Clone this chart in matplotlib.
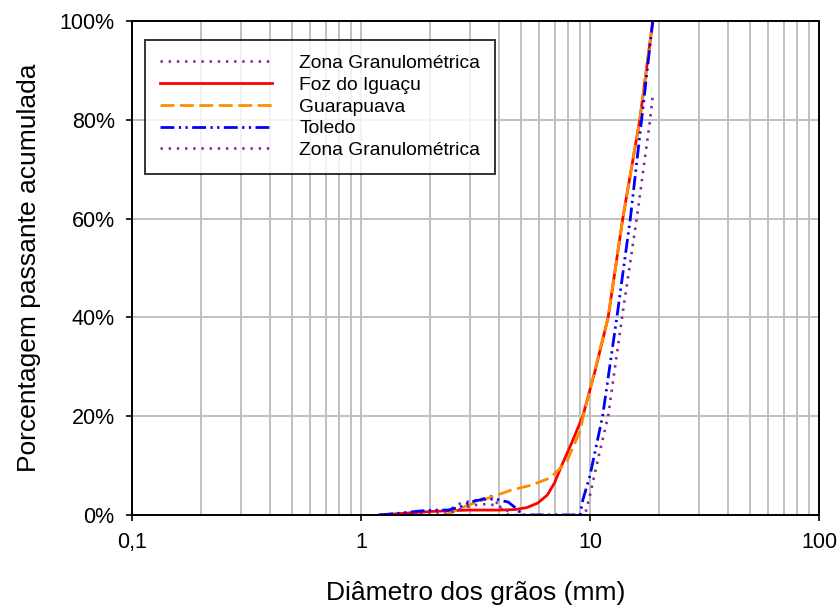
import matplotlib.pyplot as plt
from matplotlib.ticker import FixedLocator, FixedFormatter, LogLocator, NullFormatter

plt.rcParams['font.family'] = ['Liberation Sans', 'DejaVu Sans']

##############################
# Donnees (diametre en mm, % passante)

zona1_x = [1.2, 1.6, 2.0, 2.4, 2.65, 2.85, 3.1, 3.4, 3.7, 3.9, 4.1, 4.4, 6.0, 9.5, 10.0, 10.8, 12.0, 13.8, 16.0, 18.3, 18.8]
zona1_y = [0, 0.2, 0.3, 0.8, 2.2, 2.6, 2.9, 3.3, 3.8, 2.6, 1.2, 0, 0, 0, 4, 11, 20, 40, 60, 80, 85]

foz_x = [1.2, 1.6, 2.0, 2.5, 3.0, 4.0, 4.7, 5.3, 5.9, 6.5, 7.0, 7.6, 8.3, 9.3, 10.5, 12.0, 13.9, 16.5, 18.8]
foz_y = [0, 0.4, 0.7, 0.9, 1.0, 1.0, 1.1, 1.5, 2.4, 4.0, 6.5, 10.5, 14.5, 20, 29, 40, 60, 80, 100]

guara_x = [2.3, 2.45, 2.8, 3.2, 3.7, 4.5, 5.5, 6.7, 7.9, 9.05, 9.4, 12.0, 13.9, 16.5, 18.8]
guara_y = [0, 0.4, 1.6, 2.6, 3.6, 5.0, 6.0, 7.5, 10.7, 17, 20.5, 40, 60, 80, 100]

toledo_x = [1.2, 1.5, 1.8, 2.1, 2.4, 2.7, 3.0, 3.4, 3.9, 4.4, 4.8, 5.05, 9.05, 9.3, 10.0, 11.35, 13.1, 15.0, 16.8, 18.8]
toledo_y = [0, 0.4, 0.8, 1.0, 1.0, 1.6, 2.6, 3.2, 3.2, 2.6, 1.2, 0, 0, 3, 8, 20, 40, 60, 80, 100]

zona2_x = [2.3, 2.5, 2.8, 3.1, 3.5, 3.85, 4.2, 4.6]
zona2_y = [0, 0.6, 1.4, 2.0, 2.2, 2.0, 1.4, 0]

xticks = [0.1, 1, 10, 100]
xlabels = ['0,1', '1', '10', '100']
yticks = [0, 20, 40, 60, 80, 100]
ylabels = ['0%', '20%', '40%', '60%', '80%', '100%']

##############################
# Figure

fig, ax = plt.subplots(figsize=(8.4, 6.08), dpi=100)
fig.subplots_adjust(left=132/840, right=819/840, top=1-21/608, bottom=1-515/608)

violet = '#7B2C8C'
ax.plot(zona1_x, zona1_y, color=violet, lw=1.9, dashes=(0.9, 2.2), label='Zona Granulométrica')
ax.plot(foz_x, foz_y, color='#FF0000', lw=2.0, label='Foz do Iguaçu')
ax.plot(guara_x, guara_y, color='#FF8C00', lw=2.0, dashes=(5, 2), label='Guarapuava')
ax.plot(toledo_x, toledo_y, color='#0000FF', lw=2.0, dashes=(5, 1.6, 0.8, 1.6, 0.8, 1.6), label='Toledo')
ax.plot(zona2_x, zona2_y, color=violet, lw=1.9, dashes=(0.9, 2.2), label='Zona Granulométrica')

ax.set_xscale('log')
ax.set_xlim(0.1, 100)
ax.set_ylim(0, 100)
ax.xaxis.set_major_locator(FixedLocator(xticks))
ax.xaxis.set_major_formatter(FixedFormatter(xlabels))
ax.xaxis.set_minor_locator(LogLocator(base=10, subs=range(2, 10)))
ax.xaxis.set_minor_formatter(NullFormatter())
ax.set_yticks(yticks)
ax.set_yticklabels(ylabels)

ax.grid(True, which='both', axis='x', color='#C0C0C0', lw=1.4)
ax.grid(True, which='major', axis='y', color='#C0C0C0', lw=1.4)
ax.set_axisbelow(True)

ax.tick_params(axis='both', which='major', direction='out', length=4.5, width=1.2, labelsize=15.5, pad=8)
ax.tick_params(axis='x', which='minor', length=0)
for s in ax.spines.values():
    s.set_linewidth(1.4)
    s.set_color('black')

ax.set_xlabel('Diâmetro dos grãos (mm)', fontsize=19, labelpad=20)
ax.set_ylabel('Porcentagem passante acumulada', fontsize=19, labelpad=13)

leg = ax.legend(loc='upper left', bbox_to_anchor=(0.019, 0.9615), borderaxespad=0,
                fontsize=13.9, frameon=True, fancybox=False, edgecolor='black',
                handlelength=5.8, handletextpad=1.45, labelspacing=0.22, borderpad=0.75)
leg.get_frame().set_linewidth(1.4)

plt.savefig('out.png', dpi=100)
